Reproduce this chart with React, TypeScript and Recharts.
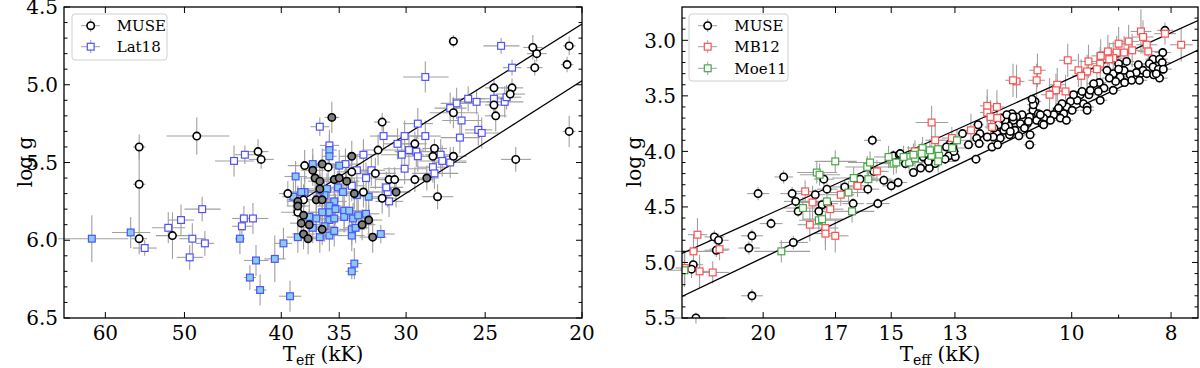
import React from 'react';
import { ScatterChart, Scatter, XAxis, YAxis, ErrorBar, ReferenceLine } from 'recharts';

// ---------- axis ticks ----------
const leftXTicks = [60, 50, 40, 35, 30, 25, 20];
const leftXMajor = [60, 50, 40, 35, 30, 25, 20];
const leftYTicks = [4.5, 4.6, 4.7, 4.8, 4.9, 5.0, 5.1, 5.2, 5.3, 5.4, 5.5, 5.6, 5.7, 5.8, 5.9, 6.0, 6.1, 6.2, 6.3, 6.4, 6.5];
const leftYMajor = [4.5, 5.0, 5.5, 6.0, 6.5];
const rightXTicks = [20, 17, 15, 13, 10, 9, 8];
const rightXMajor = [20, 17, 15, 13, 10, 8];
const rightYTicks = [2.8, 2.9, 3.0, 3.1, 3.2, 3.3, 3.4, 3.5, 3.6, 3.7, 3.8, 3.9, 4.0, 4.1, 4.2, 4.3, 4.4, 4.5, 4.6, 4.7, 4.8, 4.9, 5.0, 5.1, 5.2, 5.3, 5.4, 5.5];
const rightYMajor = [3.0, 3.5, 4.0, 4.5, 5.0, 5.5];

const leftXDomain = [20, 66];
const leftYDomain = [4.5, 6.5];
const rightXDomain = [7.53, 24];
const rightYDomain = [2.7, 5.5];

// ---------- data: [Teff (kK), log g, dTeff, dlogg] ----------
const museLeft = [
  [55.5, 5.40, 0.8, 0.08], [55.5, 5.64, 0.8, 0.25], [55.5, 5.99, 1.0, 0.1], [48.6, 5.33, 3.5, 0.12],
  [42.2, 5.43, 1.0, 0.08], [41.9, 5.48, 1.2, 0.06], [51.4, 5.97, 2.0, 0.15], [39.4, 5.70, 0.8, 0.08],
  [26.9, 4.72, 0.3, 0.04], [22.4, 4.76, 0.5, 0.08], [22.2, 4.80, 0.5, 0.05], [20.6, 4.75, 0.3, 0.06],
  [22.3, 4.89, 0.4, 0.05], [20.7, 4.87, 0.3, 0.05], [24.5, 5.02, 0.5, 0.06], [23.5, 5.02, 0.6, 0.06],
  [23.6, 5.06, 0.8, 0.05], [24.5, 5.13, 0.5, 0.08], [24.4, 5.20, 0.6, 0.1], [26.9, 5.18, 1.5, 0.1],
  [20.6, 5.30, 0.3, 0.1], [31.7, 5.24, 0.6, 0.06], [29.4, 5.38, 0.8, 0.08], [28.1, 5.41, 0.8, 0.06],
  [28.2, 5.46, 1.0, 0.06], [26.9, 5.46, 0.8, 0.06], [23.3, 5.48, 0.8, 0.08], [32.0, 5.42, 1.2, 0.1],
  [32.2, 5.57, 1.5, 0.1], [37.9, 5.52, 1.5, 0.1], [35.9, 5.53, 1.0, 0.1], [34.0, 5.56, 1.2, 0.1],
  [31.2, 5.61, 1.0, 0.08], [30.8, 5.61, 1.0, 0.08], [29.4, 5.61, 1.2, 0.08], [38.0, 5.74, 1.5, 0.1],
  [33.1, 5.69, 1.2, 0.1], [31.7, 5.73, 1.0, 0.1], [27.9, 5.72, 1.0, 0.08], [38.5, 5.82, 1.5, 0.1],
];

const museLeftGray = [
  [35.6, 5.21, 0.6, 0.1], [28.6, 5.60, 0.8, 0.08], [34.0, 5.46, 1.0, 0.1], [36.4, 5.51, 1.0, 0.1],
  [37.2, 5.55, 1.0, 0.1], [37.0, 5.60, 1.0, 0.1], [36.6, 5.62, 1.0, 0.1], [36.6, 5.67, 1.0, 0.1],
  [35.4, 5.61, 1.0, 0.1], [35.0, 5.60, 1.0, 0.1], [34.4, 5.62, 1.0, 0.1], [33.8, 5.70, 1.0, 0.1],
  [30.7, 5.69, 1.0, 0.1], [38.5, 5.75, 1.0, 0.1], [38.5, 5.78, 1.0, 0.1], [36.9, 5.74, 1.0, 0.1],
  [36.4, 5.74, 1.0, 0.1], [38.0, 5.84, 1.0, 0.1], [38.2, 5.89, 1.0, 0.1], [37.5, 5.90, 1.0, 0.1],
  [36.4, 5.93, 1.0, 0.1], [33.2, 5.90, 1.0, 0.1], [32.7, 5.87, 1.0, 0.1], [38.0, 5.96, 1.0, 0.1],
  [37.6, 5.99, 1.0, 0.1], [32.4, 5.98, 1.0, 0.1],
];

const lat18Open = [
  [44.6, 5.49, 2.0, 0.1], [43.5, 5.45, 1.0, 0.06], [54.8, 6.05, 1.5, 0.05], [51.9, 5.92, 2.0, 0.1],
  [50.4, 5.87, 1.5, 0.1], [49.1, 5.99, 1.5, 0.1], [49.4, 6.11, 1.5, 0.08], [48.0, 5.80, 2.0, 0.08],
  [47.7, 6.02, 1.0, 0.08], [43.8, 5.91, 1.0, 0.08], [43.6, 5.86, 1.2, 0.08], [42.7, 5.86, 1.5, 0.1],
  [24.1, 4.75, 1.0, 0.05], [23.5, 4.89, 0.5, 0.05], [28.7, 4.95, 1.5, 0.1], [26.0, 5.09, 1.0, 0.08],
  [25.5, 5.11, 1.0, 0.08], [24.5, 5.09, 0.8, 0.08], [23.9, 5.11, 1.0, 0.1], [23.8, 5.08, 0.8, 0.08],
  [26.7, 5.12, 1.0, 0.1], [27.1, 5.15, 1.0, 0.1], [26.4, 5.23, 1.2, 0.1], [29.2, 5.25, 1.0, 0.1],
  [25.4, 5.29, 0.8, 0.1], [25.2, 5.31, 1.0, 0.1], [26.5, 5.34, 1.2, 0.1], [28.7, 5.33, 1.0, 0.1],
  [30.1, 5.33, 1.5, 0.1], [29.3, 5.43, 1.5, 0.1], [29.2, 5.46, 1.2, 0.1], [27.7, 5.45, 1.0, 0.1],
  [27.6, 5.49, 1.5, 0.1], [28.2, 5.53, 1.0, 0.1], [30.1, 5.54, 1.5, 0.1], [30.3, 5.45, 1.5, 0.1],
  [27.1, 5.50, 1.0, 0.1], [28.1, 5.57, 1.5, 0.1], [36.6, 5.27, 0.8, 0.06], [35.8, 5.39, 0.8, 0.1],
  [31.6, 5.33, 1.0, 0.08], [33.1, 5.45, 1.0, 0.1], [30.6, 5.38, 1.0, 0.1], [29.8, 5.42, 1.0, 0.1],
  [32.9, 5.60, 1.5, 0.1], [31.3, 5.69, 1.5, 0.1], [31.2, 5.75, 1.0, 0.1], [34.5, 5.51, 1.2, 0.1],
  [33.6, 5.55, 1.0, 0.1], [31.4, 5.66, 1.2, 0.1], [32.5, 5.55, 1.0, 0.1], [34.0, 5.65, 1.0, 0.1],
];

const lat18Filled = [
  [38.7, 5.59, 1.0, 0.1], [61.9, 5.99, 5.0, 0.15], [56.6, 5.95, 2.5, 0.1], [44.0, 5.99, 0.5, 0.1],
  [42.4, 6.13, 1.2, 0.1], [43.0, 6.24, 0.6, 0.08], [42.0, 6.32, 0.6, 0.1], [40.6, 6.12, 1.0, 0.15],
  [39.8, 6.02, 0.8, 0.1], [39.2, 6.36, 1.0, 0.1], [38.5, 5.98, 1.0, 0.1], [33.8, 6.15, 0.6, 0.1],
  [34.0, 6.20, 0.5, 0.05], [31.8, 5.96, 1.0, 0.06], [34.0, 5.97, 1.0, 0.1], [34.0, 5.93, 1.0, 0.1],
  [35.8, 5.97, 1.0, 0.1], [36.6, 5.98, 1.0, 0.1], [35.8, 5.42, 0.6, 0.1], [35.8, 5.46, 0.6, 0.1],
  [35.0, 5.52, 1.0, 0.1], [37.2, 5.51, 1.0, 0.1], [37.9, 5.69, 1.0, 0.1], [36.0, 5.67, 1.0, 0.1],
  [35.1, 5.66, 1.0, 0.1], [34.7, 5.69, 1.0, 0.1], [38.9, 5.72, 1.0, 0.1], [38.2, 5.69, 1.0, 0.1],
  [36.2, 5.71, 1.0, 0.1], [35.4, 5.75, 1.0, 0.1], [35.8, 5.78, 1.0, 0.1], [35.8, 5.82, 1.0, 0.1],
  [35.3, 5.80, 1.0, 0.1], [34.6, 5.81, 1.0, 0.1], [36.4, 5.82, 1.0, 0.1], [36.9, 5.86, 1.0, 0.1],
  [35.8, 5.87, 1.0, 0.1], [35.4, 5.86, 1.0, 0.1], [34.6, 5.85, 1.0, 0.1], [34.2, 5.81, 1.0, 0.1],
  [33.9, 5.86, 1.0, 0.1], [33.5, 5.84, 1.0, 0.1], [32.9, 5.83, 1.0, 0.1], [33.7, 5.92, 1.0, 0.1],
  [35.4, 5.94, 1.0, 0.1], [36.2, 5.91, 1.0, 0.1], [37.2, 5.92, 1.0, 0.1], [37.5, 5.85, 1.0, 0.1],
  [33.6, 5.71, 1.0, 0.1], [32.7, 5.72, 1.0, 0.1], [36.6, 5.68, 1.0, 0.1],
];

const museRightHot = [
  [15.65, 3.90, 0.3, 0.05], [14.93, 4.04, 0.3, 0.05], [14.73, 4.03, 0.3, 0.05], [14.53, 4.11, 0.3, 0.05],
  [15.60, 4.18, 0.4, 0.05], [15.25, 4.26, 0.5, 0.05], [14.77, 4.28, 0.3, 0.05], [15.0, 4.31, 0.3, 0.05],
  [16.09, 4.25, 0.5, 0.05], [16.65, 4.32, 0.5, 0.06], [15.81, 4.34, 0.4, 0.05], [17.45, 4.25, 0.4, 0.06],
  [17.33, 4.34, 0.4, 0.05], [17.79, 4.39, 0.4, 0.05], [18.74, 4.38, 0.5, 0.06], [18.59, 4.45, 0.5, 0.05],
  [17.52, 4.48, 0.4, 0.05], [17.31, 4.47, 0.4, 0.05], [17.65, 4.54, 0.4, 0.05], [18.49, 4.54, 0.5, 0.05],
  [16.34, 4.47, 0.4, 0.05], [15.46, 4.47, 0.4, 0.05], [19.10, 4.23, 0.4, 0.06], [20.23, 4.38, 0.5, 0.06],
  [19.65, 4.65, 0.5, 0.05], [20.51, 4.76, 0.5, 0.06], [20.65, 4.87, 0.5, 0.06], [18.69, 4.82, 0.6, 0.06],
  [22.32, 4.77, 0.5, 0.06], [22.11, 4.80, 0.5, 0.06], [22.22, 4.89, 0.6, 0.06], [23.40, 5.02, 0.5, 0.06],
  [23.49, 5.06, 0.6, 0.08], [20.51, 5.30, 0.5, 0.06], [23.26, 5.50, 1.5, 0.05],
];

// cooler MUSE stars: [Teff, log g] (errors: museCoolErr)
const museCoolErr = [0.15, 0.04];
const museRightCool = [
  [8.11, 2.91], [8.15, 3.11], [8.33, 3.17], [8.21, 3.17], [8.40, 3.21], [8.16, 3.20], [8.33, 3.24], [8.23, 3.26],
  [8.14, 3.26], [8.61, 3.22], [8.52, 3.27], [8.65, 3.29], [8.45, 3.30], [8.32, 3.31], [8.21, 3.34], [8.27, 3.30],
  [8.84, 3.19], [9.00, 3.21], [8.89, 3.27], [8.77, 3.31], [8.74, 3.36], [8.59, 3.36], [8.97, 3.33], [9.06, 3.37],
  [8.88, 3.38], [9.11, 3.30], [9.19, 3.34], [9.24, 3.27], [9.00, 3.26], [9.40, 3.38], [9.30, 3.43], [9.11, 3.45],
  [9.42, 3.46], [9.52, 3.39], [9.62, 3.49], [9.59, 3.45], [9.38, 3.54], [9.74, 3.57], [9.81, 3.49], [9.66, 3.60],
  [9.77, 3.46], [9.88, 3.54], [9.96, 3.49], [10.03, 3.55], [10.11, 3.60], [9.99, 3.63], [10.22, 3.57], [10.33, 3.63],
  [10.18, 3.66], [10.41, 3.67], [10.57, 3.66], [10.26, 3.70], [10.49, 3.72], [10.30, 3.61], [10.12, 3.72], [9.66, 3.63],
  [10.86, 3.55], [10.91, 3.63], [10.78, 3.66], [10.65, 3.70], [10.82, 3.72], [10.69, 3.75], [10.99, 3.69], [11.18, 3.67],
  [11.32, 3.69], [11.05, 3.75], [11.22, 3.75], [11.12, 3.79], [11.40, 3.72], [11.44, 3.66], [11.52, 3.77], [11.36, 3.81],
  [11.61, 3.72], [11.65, 3.81], [11.79, 3.76], [11.50, 3.85], [11.83, 3.84], [11.74, 3.88], [11.91, 3.79], [11.93, 3.87],
  [11.72, 3.70], [11.57, 3.67], [12.09, 3.87], [11.96, 3.96], [10.90, 3.58], [10.93, 3.53], [10.99, 3.94], [12.34, 3.76],
  [12.29, 3.84], [12.38, 3.88], [13.14, 3.93], [13.18, 4.04], [12.99, 4.05], [12.61, 3.94], [13.25, 3.96], [13.96, 4.05],
  [13.85, 4.02], [13.70, 4.05], [12.78, 3.84], [12.31, 3.93], [12.40, 4.07], [11.81, 3.94], [11.61, 3.78], [11.41, 3.69],
  [11.48, 3.82], [11.26, 3.86], [11.02, 3.73], [10.98, 3.85], [10.65, 3.76], [10.73, 3.67], [13.07, 3.96], [13.03, 4.00],
  [13.59, 4.11], [13.77, 4.15], [13.80, 4.09], [14.04, 4.15], [14.27, 4.19], [14.70, 4.02], [13.29, 4.07],
];

const mb12 = [
  [8.11, 2.94, 0.2, 0.1], [8.56, 2.92, 0.2, 0.2], [8.52, 2.97, 0.2, 0.15], [8.80, 3.01, 0.2, 0.15],
  [9.00, 3.03, 0.2, 0.15], [8.45, 3.04, 0.2, 0.1], [8.42, 3.10, 0.2, 0.1], [7.82, 3.04, 0.2, 0.15],
  [8.73, 3.09, 0.2, 0.15], [8.89, 3.11, 0.2, 0.15], [9.04, 3.11, 0.2, 0.15], [9.22, 3.10, 0.2, 0.15],
  [9.11, 3.16, 0.2, 0.15], [9.37, 3.14, 0.2, 0.15], [9.38, 3.21, 0.2, 0.15], [9.19, 3.17, 0.2, 0.15],
  [9.63, 3.19, 0.2, 0.15], [9.45, 3.26, 0.2, 0.15], [9.85, 3.27, 0.2, 0.15], [9.66, 3.28, 0.2, 0.15],
  [9.79, 3.32, 0.2, 0.15], [10.09, 3.18, 0.2, 0.15], [10.33, 3.40, 0.2, 0.15], [10.36, 3.45, 0.2, 0.15],
  [10.14, 3.46, 0.2, 0.15], [10.51, 3.49, 0.2, 0.15], [10.80, 3.27, 0.2, 0.15], [10.82, 3.36, 0.2, 0.15],
  [11.32, 3.37, 0.2, 0.15], [11.41, 3.36, 0.2, 0.15], [11.83, 3.60, 0.2, 0.15], [12.09, 3.59, 0.2, 0.15],
  [12.09, 3.65, 0.2, 0.15], [12.00, 3.69, 0.2, 0.15], [11.82, 3.70, 0.2, 0.15], [11.96, 3.78, 0.2, 0.15],
  [12.54, 3.81, 0.3, 0.15], [13.70, 3.74, 0.5, 0.15], [13.59, 3.90, 0.3, 0.15], [13.09, 3.88, 0.3, 0.1],
  [14.22, 4.00, 0.3, 0.1], [23.18, 4.75, 0.5, 0.15], [23.39, 4.90, 1.0, 0.15], [23.07, 5.08, 0.8, 0.15],
  [22.40, 5.09, 0.8, 0.1], [22.06, 4.88, 0.5, 0.1], [18.20, 4.36, 0.5, 0.1], [17.90, 4.46, 0.5, 0.15],
  [17.20, 4.52, 0.5, 0.1], [18.01, 4.66, 0.5, 0.15], [17.39, 4.69, 0.5, 0.15], [17.39, 4.74, 0.5, 0.15],
  [17.01, 4.76, 0.5, 0.15], [16.80, 4.39, 0.5, 0.1], [16.18, 4.31, 0.5, 0.1], [15.49, 4.18, 0.4, 0.1],
  [23.85, 5.05, 0.5, 0.15],
];

const moe11 = [
  [17.01, 4.09, 0.8, 0.1], [17.73, 4.19, 0.8, 0.1], [17.62, 4.21, 0.8, 0.1], [16.32, 4.24, 0.8, 0.1],
  [15.83, 4.14, 0.8, 0.1], [15.73, 4.10, 0.8, 0.1], [15.79, 4.25, 0.8, 0.1], [16.51, 4.37, 0.8, 0.1],
  [17.33, 4.45, 0.8, 0.1], [18.29, 4.51, 0.8, 0.1], [17.65, 4.62, 0.8, 0.1], [17.52, 4.61, 0.8, 0.1],
  [16.38, 4.54, 0.8, 0.1], [19.20, 4.90, 1.2, 0.1], [23.87, 5.07, 1.0, 0.15], [14.92, 4.11, 0.5, 0.1],
  [14.83, 4.10, 0.5, 0.1], [14.43, 4.05, 0.5, 0.1], [14.41, 4.10, 0.5, 0.1], [14.22, 4.06, 0.5, 0.1],
  [13.98, 3.97, 0.5, 0.1], [13.70, 4.04, 0.5, 0.1], [13.50, 3.98, 0.5, 0.1], [13.47, 4.04, 0.5, 0.1],
  [13.50, 4.09, 0.5, 0.1], [12.94, 3.90, 0.5, 0.1], [13.08, 3.97, 0.5, 0.1], [14.01, 4.02, 0.5, 0.1],
  [13.75, 3.99, 0.5, 0.1], [14.27, 4.03, 0.5, 0.1], [15.09, 4.05, 0.5, 0.1], [14.59, 4.05, 0.5, 0.1],
];

// boundary lines: [Teff, log g] end points
const leftUpperLine = [[37.7, 5.722], [20, 4.609]];
const leftLowerLine = [[31.3, 5.773], [20, 4.974]];
const rightUpperLine = [[24, 4.919], [7.53, 2.823]];
const rightLowerLine = [[24, 5.306], [7.53, 3.087]];

// ---------- styling ----------
const FONT = '"DejaVu Serif", "Liberation Serif", serif';
const ERR = '#a0a0a0';
const BLUE = '#5050ff';
const SKY = '#86cdea';
const RED = '#ff5050';
const GREEN = '#45a845';
const GRAYFILL = '#808080';

const rows = (pts: number[][], def: number[] = [0, 0]) =>
  pts.map((p) => ({ T: p[0], g: p[1], ex: p.length > 2 ? p[2] : def[0], ey: p.length > 3 ? p[3] : def[1] }));

const seg = (l: number[][]) => [{ x: l[0][0], y: l[0][1] }, { x: l[1][0], y: l[1][1] }];

const isIn = (arr: number[], v: number) => arr.some((m) => Math.abs(m - v) < 1e-6);

const makeXTick = (major: number[], top: number) => (p: any) => {
  const v = p.payload.value;
  const mj = isIn(major, v);
  const len = mj ? 6 : 3.5;
  return (
    <g>
      <line x1={p.x} x2={p.x} y1={p.y} y2={p.y - len} stroke="#000" strokeWidth={1} />
      <line x1={p.x} x2={p.x} y1={top} y2={top + len} stroke="#000" strokeWidth={1} />
      {mj && (
        <text x={p.x} y={p.y + 22} textAnchor="middle" fontSize={20} fontFamily={FONT} fill="#000">
          {String(v)}
        </text>
      )}
    </g>
  );
};

const makeYTick = (major: number[], right: number) => (p: any) => {
  const v = p.payload.value;
  const mj = isIn(major, v);
  const len = mj ? 6 : 3.5;
  return (
    <g>
      <line x1={p.x} x2={p.x + len} y1={p.y} y2={p.y} stroke="#000" strokeWidth={1} />
      <line x1={right} x2={right - len} y1={p.y} y2={p.y} stroke="#000" strokeWidth={1} />
      {mj && (
        <text x={p.x - 6} y={p.y} dy="0.36em" textAnchor="end" fontSize={20} fontFamily={FONT} fill="#000">
          {v.toFixed(1)}
        </text>
      )}
    </g>
  );
};

const Empty = () => <g />;
const circ = (fill: string) => (p: any) => (
  <circle cx={p.cx} cy={p.cy} r={3.7} fill={fill} stroke="#000" strokeWidth={1.6} />
);
const sq = (fill: string, stroke: string) => (p: any) => (
  <rect x={p.cx - 3.4} y={p.cy - 3.4} width={6.8} height={6.8} fill={fill} stroke={stroke} strokeWidth={1.2} />
);

const errLayer = (data: any[], key: string) => (
  <Scatter key={key} data={data} shape={Empty} isAnimationActive={false}>
    <ErrorBar dataKey="ex" direction="x" width={0} stroke={ERR} strokeWidth={1.1} />
    <ErrorBar dataKey="ey" direction="y" width={0} stroke={ERR} strokeWidth={1.1} />
  </Scatter>
);

const XLabel = ({ cx }: { cx: number }) => (
  <text x={cx} y={361} textAnchor="middle" fontSize={20} fontFamily={FONT} fill="#000">
    T<tspan fontSize={14} dy={4}>eff</tspan>
    <tspan dy={-4} fontSize={20}> (kK)</tspan>
  </text>
);

const YLabel = ({ x }: { x: number }) => (
  <text x={x} y={162} transform={`rotate(-90 ${x} 162)`} textAnchor="middle" fontSize={20} fontFamily={FONT} fill="#000">
    log g
  </text>
);

const museL = rows(museLeft);
const museLG = rows(museLeftGray);
const latO = rows(lat18Open);
const latF = rows(lat18Filled);
const museR = [...rows(museRightHot), ...rows(museRightCool, museCoolErr)];
const mbR = rows(mb12);
const moeR = rows(moe11);

export default function App() {
  return (
    <div style={{ position: 'relative', width: 1200, height: 368, background: '#fff', fontFamily: FONT }}>
      <style>{'body{margin:0}'}</style>
      <div style={{ position: 'absolute', left: 0, top: 0 }}>
        <ScatterChart width={600} height={368} margin={{ top: 7, right: 18, bottom: 0, left: 0 }}>
          <XAxis
            type="number" dataKey="T" scale="log" domain={leftXDomain} reversed allowDataOverflow
            ticks={leftXTicks} interval={0} tickSize={0} tickMargin={0} tickLine={false} axisLine={false}
            height={50} tick={makeXTick(leftXMajor, 7)} label={<XLabel cx={323} />}
          />
          <YAxis
            type="number" dataKey="g" domain={leftYDomain} reversed allowDataOverflow
            ticks={leftYTicks} interval={0} tickSize={0} tickMargin={0} tickLine={false} axisLine={false}
            width={64} tick={makeYTick(leftYMajor, 582)} label={<YLabel x={16} />}
          />
          {errLayer(museL, 'e1')}
          {errLayer(museLG, 'e2')}
          {errLayer(latO, 'e3')}
          {errLayer(latF, 'e4')}
          <Scatter data={latO} shape={sq('#fff', BLUE)} isAnimationActive={false} />
          <Scatter data={latF} shape={sq(SKY, BLUE)} isAnimationActive={false} />
          <Scatter data={museL} shape={circ('#fff')} isAnimationActive={false} />
          <Scatter data={museLG} shape={circ(GRAYFILL)} isAnimationActive={false} />
          <ReferenceLine segment={seg(leftUpperLine)} stroke="#000" strokeWidth={1.3} ifOverflow="hidden" />
          <ReferenceLine segment={seg(leftLowerLine)} stroke="#000" strokeWidth={1.3} ifOverflow="hidden" />
        </ScatterChart>
      </div>
      <div style={{ position: 'absolute', left: 600, top: 0 }}>
        <ScatterChart width={600} height={368} margin={{ top: 7, right: 2, bottom: 0, left: 0 }}>
          <XAxis
            type="number" dataKey="T" scale="log" domain={rightXDomain} reversed allowDataOverflow
            ticks={rightXTicks} interval={0} tickSize={0} tickMargin={0} tickLine={false} axisLine={false}
            height={50} tick={makeXTick(rightXMajor, 7)} label={<XLabel cx={340} />}
          />
          <YAxis
            type="number" dataKey="g" domain={rightYDomain} reversed allowDataOverflow
            ticks={rightYTicks} interval={0} tickSize={0} tickMargin={0} tickLine={false} axisLine={false}
            width={82} tick={makeYTick(rightYMajor, 598)} label={<YLabel x={34} />}
          />
          {errLayer(museR, 'r1')}
          {errLayer(mbR, 'r2')}
          {errLayer(moeR, 'r3')}
          <Scatter data={museR} shape={circ('#fff')} isAnimationActive={false} />
          <Scatter data={mbR} shape={sq('#fff', RED)} isAnimationActive={false} />
          <Scatter data={moeR} shape={sq('#fff', GREEN)} isAnimationActive={false} />
          <ReferenceLine segment={seg(rightUpperLine)} stroke="#000" strokeWidth={1.3} ifOverflow="hidden" />
          <ReferenceLine segment={seg(rightLowerLine)} stroke="#000" strokeWidth={1.3} ifOverflow="hidden" />
        </ScatterChart>
      </div>
      <svg width={1200} height={368} style={{ position: 'absolute', left: 0, top: 0, pointerEvents: 'none' }}>
        <rect x={64} y={7} width={518} height={311} fill="none" stroke="#000" strokeWidth={1.3} />
        <rect x={682} y={7} width={516} height={311} fill="none" stroke="#000" strokeWidth={1.3} />
        {/* left legend */}
        <rect x={72} y={14} width={95} height={46} rx={3} fill="#fff" fillOpacity={0.85} stroke="#d0d0d0" />
        <line x1={81} x2={100} y1={25.7} y2={25.7} stroke={ERR} />
        <line x1={90.7} x2={90.7} y1={19} y2={32} stroke={ERR} />
        <circle cx={90.7} cy={25.7} r={3.7} fill="#fff" stroke="#000" strokeWidth={1.6} />
        <text x={116.7} y={31} fontSize={15} fontFamily={FONT} fill="#000">MUSE</text>
        <line x1={81} x2={100} y1={46.7} y2={46.7} stroke={ERR} />
        <line x1={90.7} x2={90.7} y1={40} y2={53} stroke={ERR} />
        <rect x={87.3} y={43.3} width={6.8} height={6.8} fill="#fff" stroke={BLUE} strokeWidth={1.2} />
        <text x={116.7} y={52} fontSize={15} fontFamily={FONT} fill="#000">Lat18</text>
        {/* right legend */}
        <rect x={689} y={14} width={99} height={67} rx={3} fill="#fff" fillOpacity={0.85} stroke="#d0d0d0" />
        <line x1={698} x2={717} y1={25.7} y2={25.7} stroke={ERR} />
        <line x1={707.7} x2={707.7} y1={19} y2={32} stroke={ERR} />
        <circle cx={707.7} cy={25.7} r={3.7} fill="#fff" stroke="#000" strokeWidth={1.6} />
        <text x={734.3} y={31} fontSize={15} fontFamily={FONT} fill="#000">MUSE</text>
        <line x1={698} x2={717} y1={46.7} y2={46.7} stroke={ERR} />
        <line x1={707.7} x2={707.7} y1={40} y2={53} stroke={ERR} />
        <rect x={704.3} y={43.3} width={6.8} height={6.8} fill="#fff" stroke={RED} strokeWidth={1.2} />
        <text x={734.3} y={52} fontSize={15} fontFamily={FONT} fill="#000">MB12</text>
        <line x1={698} x2={717} y1={68.3} y2={68.3} stroke={ERR} />
        <line x1={707.7} x2={707.7} y1={61.6} y2={75} stroke={ERR} />
        <rect x={704.3} y={64.9} width={6.8} height={6.8} fill="#fff" stroke={GREEN} strokeWidth={1.2} />
        <text x={734.3} y={73.6} fontSize={15} fontFamily={FONT} fill="#000">Moe11</text>
      </svg>
    </div>
  );
}
